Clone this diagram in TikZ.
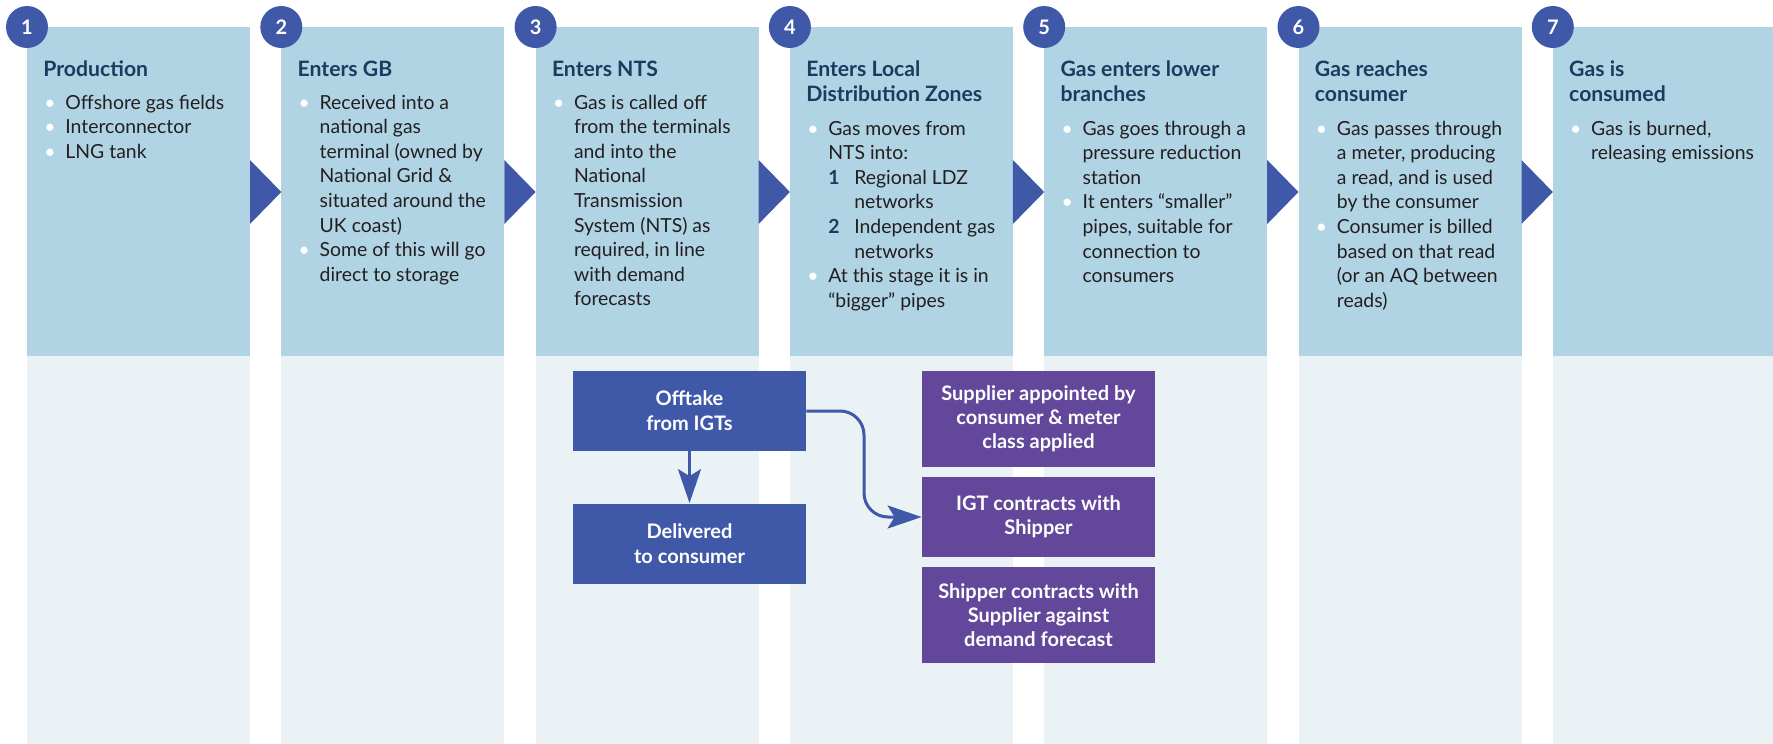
\documentclass[tikz,border=0pt]{standalone}
\usepackage{fontspec}
\setmainfont{Lato}
\usetikzlibrary{arrows.meta}

\definecolor{stagetop}{HTML}{B0D4E4}
\definecolor{stagelow}{HTML}{EAF2F6}
\definecolor{flowblue}{HTML}{3F59A8}
\definecolor{dealpurple}{HTML}{62479B}
\definecolor{headnavy}{HTML}{1F3A60}
\definecolor{bodyink}{HTML}{231F20}

% white bullet and bold list number
\newcommand{\wbul}{\makebox[10.5pt][l]{\color{white}\textbullet}}
\newcommand{\lnum}[1]{\makebox[13pt][l]{\textcolor{headnavy}{\bfseries #1}}}

\begin{document}
\begin{tikzpicture}[
    x=0.5pt, y=-0.5pt,
    stepno/.style={
        circle,
        fill=flowblue,
        text=white,
        minimum size=21pt,
        inner sep=0pt,
        font=\bfseries\fontsize{10}{12}\selectfont
    },
    head/.style={
        anchor=base west,
        inner sep=0pt,
        text=headnavy,
        font=\bfseries\fontsize{10.6}{12.5}\selectfont
    },
    body/.style={
        anchor=base west,
        inner sep=0pt,
        text=bodyink,
        font=\fontsize{9.7}{12.3}\selectfont
    },
    flowbox/.style={
        rectangle,
        fill=flowblue,
        text=white,
        align=center,
        inner sep=0pt,
        minimum width=116.5pt,
        minimum height=40pt,
        font=\bfseries\fontsize{10}{12.5}\selectfont
    },
    dealbox/.style={
        rectangle,
        fill=dealpurple,
        text=white,
        align=center,
        inner sep=0pt,
        minimum width=116.5pt,
        font=\bfseries\fontsize{10}{12}\selectfont
    },
    flow/.style={
        draw=flowblue,
        line width=1.5pt,
        -{Stealth[length=17pt, width=11.5pt, inset=3.5pt]}
    }
]

\useasboundingbox (0,0) rectangle (1773,744);

% Stage panels
\fill[stagetop] (27,27) rectangle (250,356);
\fill[stagetop] (281.3,27) rectangle (504.3,356);
\fill[stagetop] (535.6,27) rectangle (758.6,356);
\fill[stagetop] (789.9,27) rectangle (1012.9,356);
\fill[stagetop] (1044.2,27) rectangle (1267.2,356);
\fill[stagetop] (1298.5,27) rectangle (1521.5,356);
\fill[stagetop] (1552.8,27) rectangle (1775.8,356);

\fill[stagelow] (27,356) rectangle (250,744);
\fill[stagelow] (281.3,356) rectangle (504.3,744);
\fill[stagelow] (535.6,356) rectangle (758.6,744);
\fill[stagelow] (789.9,356) rectangle (1012.9,744);
\fill[stagelow] (1044.2,356) rectangle (1267.2,744);
\fill[stagelow] (1298.5,356) rectangle (1521.5,744);
\fill[stagelow] (1552.8,356) rectangle (1775.8,744);

% Chevrons between stages
\fill[flowblue] (250,160) -- (281.3,192) -- (250,224) -- cycle;
\fill[flowblue] (504.3,160) -- (535.6,192) -- (504.3,224) -- cycle;
\fill[flowblue] (758.6,160) -- (789.9,192) -- (758.6,224) -- cycle;
\fill[flowblue] (1012.9,160) -- (1044.2,192) -- (1012.9,224) -- cycle;
\fill[flowblue] (1267.2,160) -- (1298.5,192) -- (1267.2,224) -- cycle;
\fill[flowblue] (1521.5,160) -- (1552.8,192) -- (1521.5,224) -- cycle;

% Step numbers
\node[stepno] (n1) at (27,27) {1};
\node[stepno] (n2) at (281.3,27) {2};
\node[stepno] (n3) at (535.6,27) {3};
\node[stepno] (n4) at (789.9,27) {4};
\node[stepno] (n5) at (1044.2,27) {5};
\node[stepno] (n6) at (1298.5,27) {6};
\node[stepno] (n7) at (1552.8,27) {7};

% Stage titles
\node[head] (h1) at (43,76) {Production};
\node[head] (h2) at (297.3,76) {Enters GB};
\node[head] (h3) at (551.6,76) {Enters NTS};
\node[head] (h4) at (805.9,76) {\begin{tabular}[t]{@{}l@{}}Enters Local\\Distribution Zones\end{tabular}};
\node[head] (h5) at (1060.2,76) {\begin{tabular}[t]{@{}l@{}}Gas enters lower\\branches\end{tabular}};
\node[head] (h6) at (1314.5,76) {\begin{tabular}[t]{@{}l@{}}Gas reaches\\consumer\end{tabular}};
\node[head] (h7) at (1568.8,76) {\begin{tabular}[t]{@{}l@{}}Gas is\\consumed\end{tabular}};

% Stage details
\node[body] (b1) at (44,109) {\begin{tabular}[t]{@{}l@{}l@{}}
    \wbul & Offshore gas fields\\
    \wbul & Interconnector\\
    \wbul & LNG tank
\end{tabular}};

\node[body] (b2) at (298.3,109) {\begin{tabular}[t]{@{}l@{}l@{}}
    \wbul & Received into a\\
          & national gas\\
          & terminal (owned by\\
          & National Grid \&\\
          & situated around the\\
          & UK coast)\\
    \wbul & Some of this will go\\
          & direct to storage
\end{tabular}};

\node[body] (b3) at (552.6,109) {\begin{tabular}[t]{@{}l@{}l@{}}
    \wbul & Gas is called off\\
          & from the terminals\\
          & and into the\\
          & National\\
          & Transmission\\
          & System (NTS) as\\
          & required, in line\\
          & with demand\\
          & forecasts
\end{tabular}};

\node[body] (b4) at (806.9,135) {\begin{tabular}[t]{@{}l@{}l@{}}
    \wbul & Gas moves from\\
          & NTS into:\\
          & \lnum{1}Regional LDZ\\
          & \hspace{13pt}networks\\
          & \lnum{2}Independent gas\\
          & \hspace{13pt}networks\\
    \wbul & At this stage it is in\\
          & “bigger” pipes
\end{tabular}};

\node[body] (b5) at (1061.2,135) {\begin{tabular}[t]{@{}l@{}l@{}}
    \wbul & Gas goes through a\\
          & pressure reduction\\
          & station\\
    \wbul & It enters “smaller”\\
          & pipes, suitable for\\
          & connection to\\
          & consumers
\end{tabular}};

\node[body] (b6) at (1315.5,135) {\begin{tabular}[t]{@{}l@{}l@{}}
    \wbul & Gas passes through\\
          & a meter, producing\\
          & a read, and is used\\
          & by the consumer\\
    \wbul & Consumer is billed\\
          & based on that read\\
          & (or an AQ between\\
          & reads)
\end{tabular}};

\node[body] (b7) at (1569.8,135) {\begin{tabular}[t]{@{}l@{}l@{}}
    \wbul & Gas is burned,\\
          & releasing emissions
\end{tabular}};

% IGT offtake flow
\node[flowbox] (offtake) at (689.5,411) {Offtake\\from IGTs};
\node[flowbox] (delivered) at (689.5,543.5) {Delivered\\to consumer};

% Supply contracts
\node[dealbox, minimum height=48pt] (appoint) at (1038.5,419) {Supplier appointed by\\consumer \& meter\\class applied};
\node[dealbox, minimum height=40pt] (igtdeal) at (1038.5,517) {IGT contracts with\\Shipper};
\node[dealbox, minimum height=48pt] (shipdeal) at (1038.5,615) {Shipper contracts with\\Supplier against\\demand forecast};

% Connectors
\coordinate (turn) at (864,411);
\draw[flow] (offtake) -- (delivered);
\draw[flow, rounded corners=12pt] (offtake.east) -- (turn) |- (igtdeal.west);

\end{tikzpicture}
\end{document}
